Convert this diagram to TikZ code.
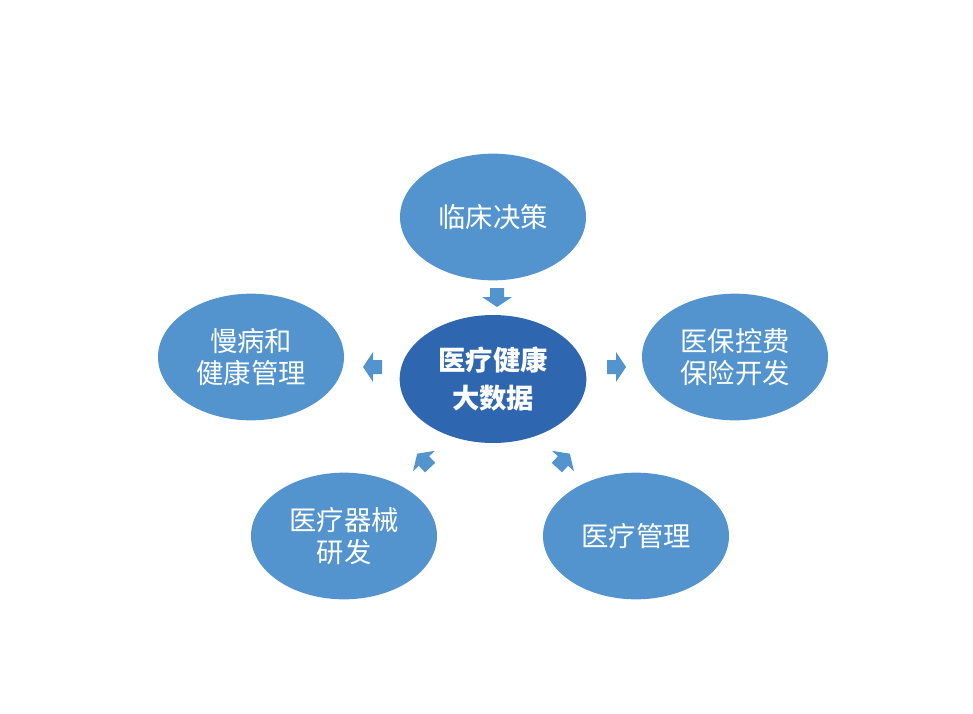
\documentclass[tikz,border=0pt]{standalone}
\usepackage{fontspec}
\newfontfamily\cjk{Noto Sans CJK SC}
\usetikzlibrary{shapes.geometric}
\begin{document}
\begin{tikzpicture}[x=0.75pt,y=-0.75pt,
  outer/.style={ellipse,fill=ob,minimum width=139.5pt,minimum height=95pt,inner sep=0pt,text=white,font=\cjk\fontsize{20.5}{24}\selectfont,align=center},
  inner/.style={ellipse,fill=cb,minimum width=140pt,minimum height=96pt,inner sep=0pt,text=white,font=\cjk\bfseries\fontsize{20.5}{28}\selectfont,align=center},
  barrow/.style={fill=ob}]
\definecolor{ob}{HTML}{5394CE}
\definecolor{cb}{HTML}{2E66B0}
\useasboundingbox (0,0) rectangle (973,713);
\node[inner] (c) at (493,379) {医疗健康\\大数据};
\node[outer] (t) at (493,217) {临床决策};
\node[outer] (r) at (735,357) {医保控费\\保险开发};
\node[outer] (l) at (251,357) {慢病和\\健康管理};
\node[outer] (bl) at (344,536) {医疗器械\\研发};
\node[outer] (br) at (636,536) {\raisebox{-7pt}{医疗管理}};
\foreach \px/\py/\a in {497/297/-90, 616/367/0, 373/367/180, 424/461/133, 563/461/47}
  \fill[barrow,shift={(\px,\py)},rotate=\a] (-9,-7) -- (0,-7) -- (0,-15) -- (10,0) -- (0,15) -- (0,7) -- (-9,7) -- cycle;
\end{tikzpicture}
\end{document}
